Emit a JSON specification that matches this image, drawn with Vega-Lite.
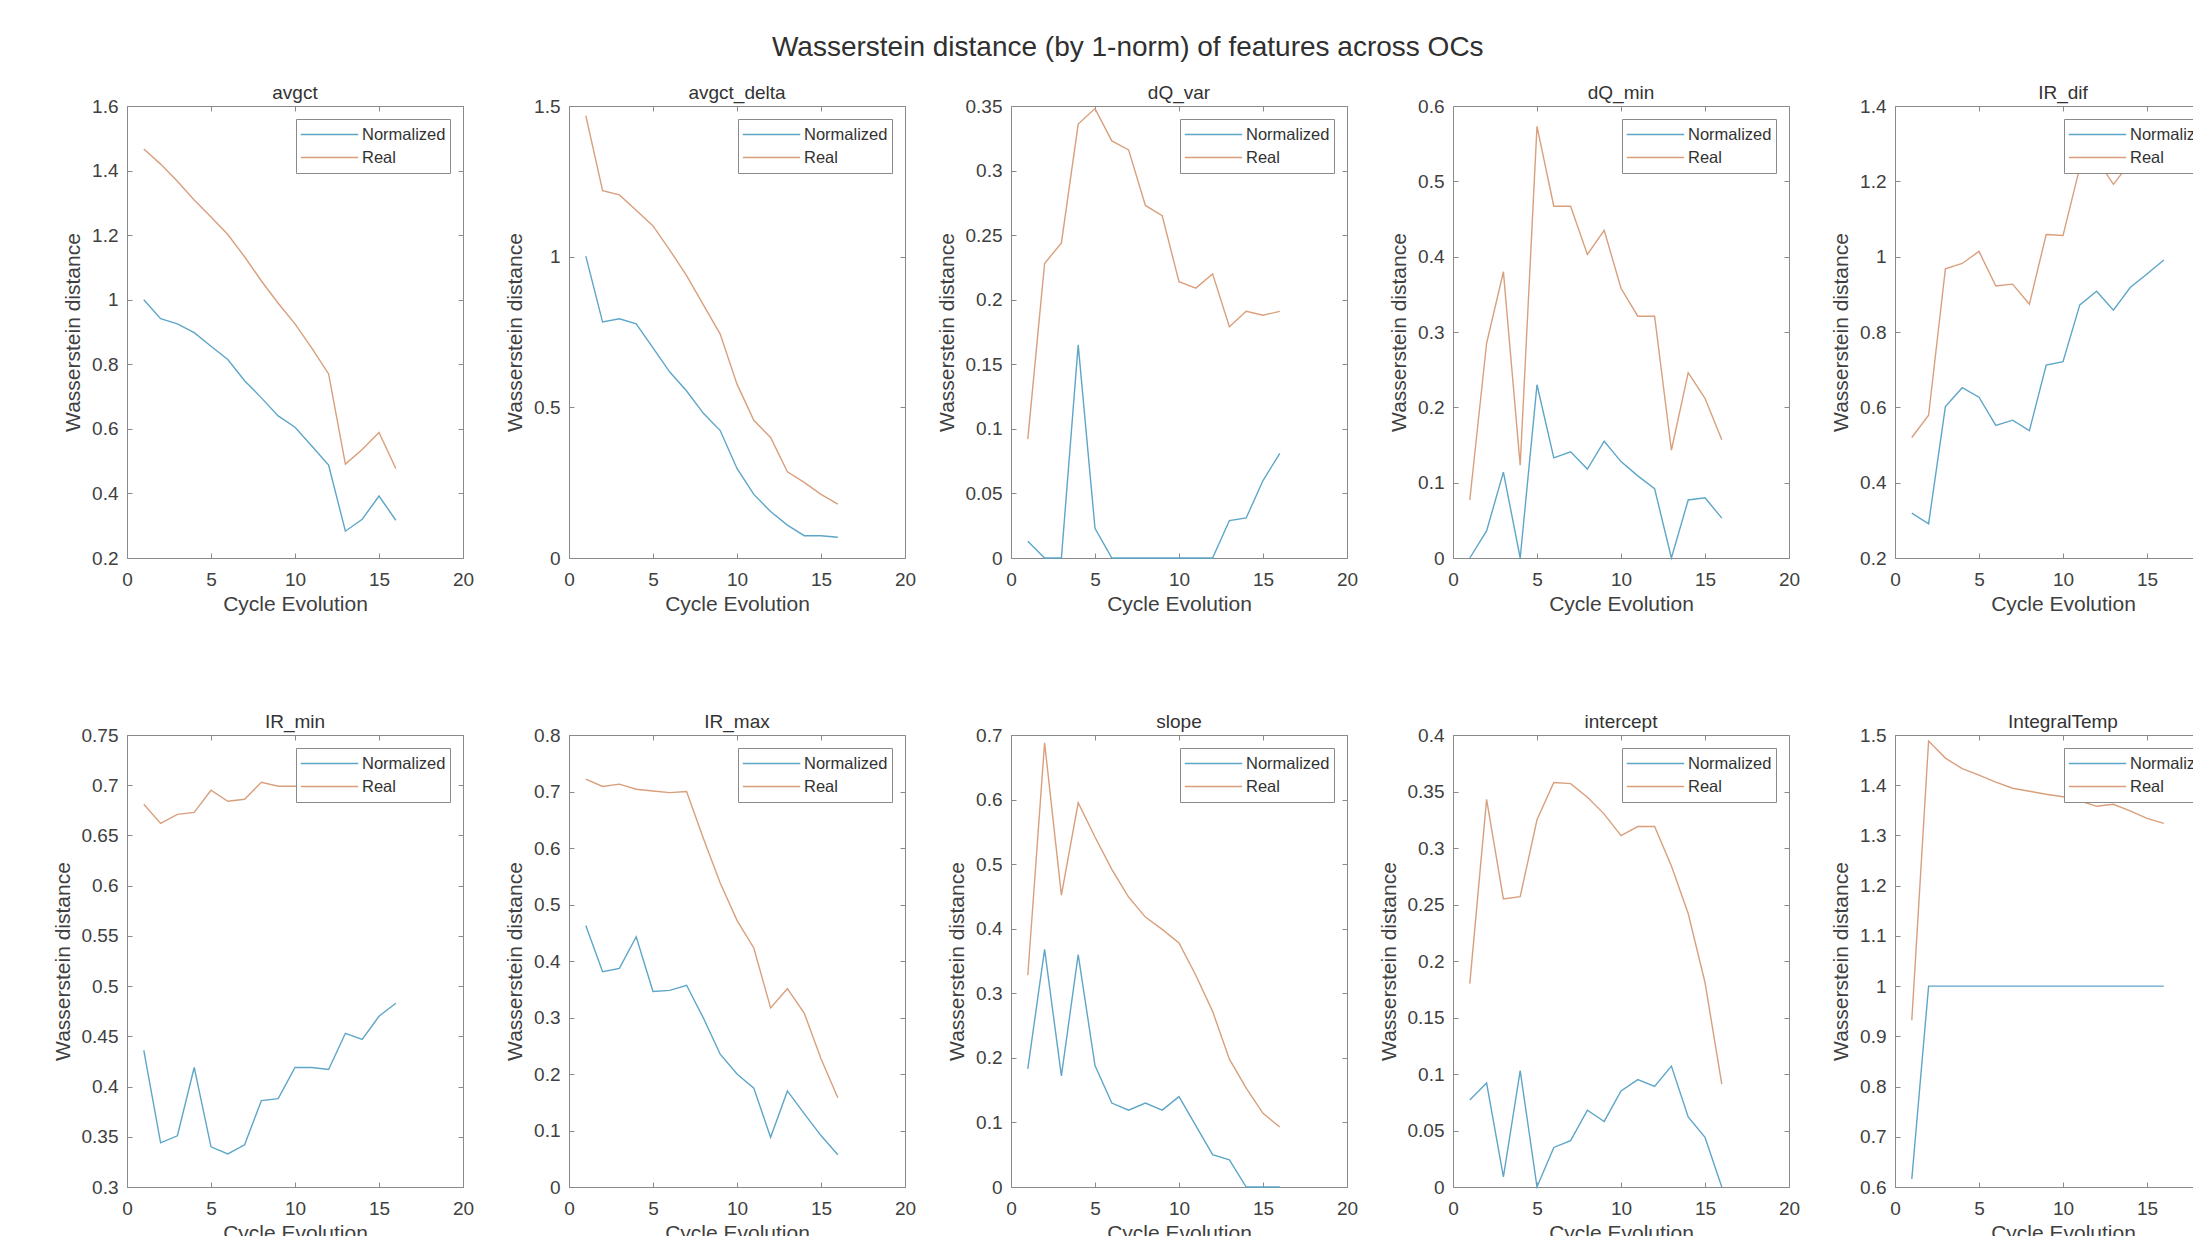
{
"$schema":"https://vega.github.io/schema/vega-lite/v6.json",
"background":"white",
"padding":{"left":51,"top":33,"right":0,"bottom":0},
"title":{"text":"Wasserstein distance (by 1-norm) of features across OCs","fontSize":28,"anchor":"middle","frame":"bounds","offset":22,"dx":-19,"fontWeight":"normal","color":"#303030"},
"datasets":{
"avgct":[
{"s":"Normalized","x":1,"y":1.0},{"s":"Normalized","x":2,"y":0.941},{"s":"Normalized","x":3,"y":0.925},{"s":"Normalized","x":4,"y":0.898},{"s":"Normalized","x":5,"y":0.856},{"s":"Normalized","x":6,"y":0.815},{"s":"Normalized","x":7,"y":0.749},{"s":"Normalized","x":8,"y":0.696},{"s":"Normalized","x":9,"y":0.64},{"s":"Normalized","x":10,"y":0.605},{"s":"Normalized","x":11,"y":0.547},{"s":"Normalized","x":12,"y":0.488},{"s":"Normalized","x":13,"y":0.283},{"s":"Normalized","x":14,"y":0.32},{"s":"Normalized","x":15,"y":0.392},{"s":"Normalized","x":16,"y":0.317},
{"s":"Real","x":1,"y":1.467},{"s":"Real","x":2,"y":1.42},{"s":"Real","x":3,"y":1.367},{"s":"Real","x":4,"y":1.309},{"s":"Real","x":5,"y":1.256},{"s":"Real","x":6,"y":1.202},{"s":"Real","x":7,"y":1.133},{"s":"Real","x":8,"y":1.058},{"s":"Real","x":9,"y":0.989},{"s":"Real","x":10,"y":0.925},{"s":"Real","x":11,"y":0.85},{"s":"Real","x":12,"y":0.77},{"s":"Real","x":13,"y":0.491},{"s":"Real","x":14,"y":0.536},{"s":"Real","x":15,"y":0.589},{"s":"Real","x":16,"y":0.477}],
"avgct_delta":[
{"s":"Normalized","x":1,"y":1.002},{"s":"Normalized","x":2,"y":0.783},{"s":"Normalized","x":3,"y":0.794},{"s":"Normalized","x":4,"y":0.777},{"s":"Normalized","x":5,"y":0.697},{"s":"Normalized","x":6,"y":0.617},{"s":"Normalized","x":7,"y":0.554},{"s":"Normalized","x":8,"y":0.48},{"s":"Normalized","x":9,"y":0.423},{"s":"Normalized","x":10,"y":0.297},{"s":"Normalized","x":11,"y":0.211},{"s":"Normalized","x":12,"y":0.154},{"s":"Normalized","x":13,"y":0.109},{"s":"Normalized","x":14,"y":0.074},{"s":"Normalized","x":15,"y":0.074},{"s":"Normalized","x":16,"y":0.069},
{"s":"Real","x":1,"y":1.468},{"s":"Real","x":2,"y":1.219},{"s":"Real","x":3,"y":1.205},{"s":"Real","x":4,"y":1.154},{"s":"Real","x":5,"y":1.102},{"s":"Real","x":6,"y":1.022},{"s":"Real","x":7,"y":0.937},{"s":"Real","x":8,"y":0.84},{"s":"Real","x":9,"y":0.743},{"s":"Real","x":10,"y":0.577},{"s":"Real","x":11,"y":0.457},{"s":"Real","x":12,"y":0.4},{"s":"Real","x":13,"y":0.286},{"s":"Real","x":14,"y":0.251},{"s":"Real","x":15,"y":0.211},{"s":"Real","x":16,"y":0.179}],
"dQ_var":[
{"s":"Normalized","x":1,"y":0.013},{"s":"Normalized","x":2,"y":0},{"s":"Normalized","x":3,"y":0},{"s":"Normalized","x":4,"y":0.165},{"s":"Normalized","x":5,"y":0.023},{"s":"Normalized","x":6,"y":0},{"s":"Normalized","x":7,"y":0},{"s":"Normalized","x":8,"y":0},{"s":"Normalized","x":9,"y":0},{"s":"Normalized","x":10,"y":0},{"s":"Normalized","x":11,"y":0},{"s":"Normalized","x":12,"y":0},{"s":"Normalized","x":13,"y":0.029},{"s":"Normalized","x":14,"y":0.031},{"s":"Normalized","x":15,"y":0.06},{"s":"Normalized","x":16,"y":0.081},
{"s":"Real","x":1,"y":0.092},{"s":"Real","x":2,"y":0.228},{"s":"Real","x":3,"y":0.244},{"s":"Real","x":4,"y":0.336},{"s":"Real","x":5,"y":0.348},{"s":"Real","x":6,"y":0.323},{"s":"Real","x":7,"y":0.316},{"s":"Real","x":8,"y":0.273},{"s":"Real","x":9,"y":0.265},{"s":"Real","x":10,"y":0.214},{"s":"Real","x":11,"y":0.209},{"s":"Real","x":12,"y":0.22},{"s":"Real","x":13,"y":0.179},{"s":"Real","x":14,"y":0.191},{"s":"Real","x":15,"y":0.188},{"s":"Real","x":16,"y":0.191}],
"dQ_min":[
{"s":"Normalized","x":1,"y":0},{"s":"Normalized","x":2,"y":0.036},{"s":"Normalized","x":3,"y":0.114},{"s":"Normalized","x":4,"y":0},{"s":"Normalized","x":5,"y":0.23},{"s":"Normalized","x":6,"y":0.133},{"s":"Normalized","x":7,"y":0.141},{"s":"Normalized","x":8,"y":0.118},{"s":"Normalized","x":9,"y":0.155},{"s":"Normalized","x":10,"y":0.128},{"s":"Normalized","x":11,"y":0.109},{"s":"Normalized","x":12,"y":0.092},{"s":"Normalized","x":13,"y":0},{"s":"Normalized","x":14,"y":0.077},{"s":"Normalized","x":15,"y":0.08},{"s":"Normalized","x":16,"y":0.053},
{"s":"Real","x":1,"y":0.077},{"s":"Real","x":2,"y":0.285},{"s":"Real","x":3,"y":0.38},{"s":"Real","x":4,"y":0.123},{"s":"Real","x":5,"y":0.573},{"s":"Real","x":6,"y":0.467},{"s":"Real","x":7,"y":0.467},{"s":"Real","x":8,"y":0.403},{"s":"Real","x":9,"y":0.435},{"s":"Real","x":10,"y":0.358},{"s":"Real","x":11,"y":0.321},{"s":"Real","x":12,"y":0.321},{"s":"Real","x":13,"y":0.143},{"s":"Real","x":14,"y":0.246},{"s":"Real","x":15,"y":0.212},{"s":"Real","x":16,"y":0.157}],
"IR_dif":[
{"s":"Normalized","x":1,"y":0.319},{"s":"Normalized","x":2,"y":0.291},{"s":"Normalized","x":3,"y":0.602},{"s":"Normalized","x":4,"y":0.652},{"s":"Normalized","x":5,"y":0.627},{"s":"Normalized","x":6,"y":0.552},{"s":"Normalized","x":7,"y":0.566},{"s":"Normalized","x":8,"y":0.538},{"s":"Normalized","x":9,"y":0.712},{"s":"Normalized","x":10,"y":0.721},{"s":"Normalized","x":11,"y":0.872},{"s":"Normalized","x":12,"y":0.908},{"s":"Normalized","x":13,"y":0.858},{"s":"Normalized","x":14,"y":0.918},{"s":"Normalized","x":15,"y":0.954},{"s":"Normalized","x":16,"y":0.991},
{"s":"Real","x":1,"y":0.52},{"s":"Real","x":2,"y":0.579},{"s":"Real","x":3,"y":0.968},{"s":"Real","x":4,"y":0.982},{"s":"Real","x":5,"y":1.014},{"s":"Real","x":6,"y":0.922},{"s":"Real","x":7,"y":0.927},{"s":"Real","x":8,"y":0.874},{"s":"Real","x":9,"y":1.059},{"s":"Real","x":10,"y":1.056},{"s":"Real","x":11,"y":1.237},{"s":"Real","x":12,"y":1.26},{"s":"Real","x":13,"y":1.192},{"s":"Real","x":14,"y":1.25},{"s":"Real","x":15,"y":1.28},{"s":"Real","x":16,"y":1.32}],
"IR_min":[
{"s":"Normalized","x":1,"y":0.436},{"s":"Normalized","x":2,"y":0.344},{"s":"Normalized","x":3,"y":0.351},{"s":"Normalized","x":4,"y":0.419},{"s":"Normalized","x":5,"y":0.34},{"s":"Normalized","x":6,"y":0.333},{"s":"Normalized","x":7,"y":0.342},{"s":"Normalized","x":8,"y":0.386},{"s":"Normalized","x":9,"y":0.388},{"s":"Normalized","x":10,"y":0.419},{"s":"Normalized","x":11,"y":0.419},{"s":"Normalized","x":12,"y":0.417},{"s":"Normalized","x":13,"y":0.453},{"s":"Normalized","x":14,"y":0.447},{"s":"Normalized","x":15,"y":0.47},{"s":"Normalized","x":16,"y":0.483},
{"s":"Real","x":1,"y":0.681},{"s":"Real","x":2,"y":0.662},{"s":"Real","x":3,"y":0.671},{"s":"Real","x":4,"y":0.673},{"s":"Real","x":5,"y":0.695},{"s":"Real","x":6,"y":0.684},{"s":"Real","x":7,"y":0.686},{"s":"Real","x":8,"y":0.703},{"s":"Real","x":9,"y":0.699},{"s":"Real","x":10,"y":0.699},{"s":"Real","x":11,"y":0.7},{"s":"Real","x":12,"y":0.702},{"s":"Real","x":13,"y":0.7},{"s":"Real","x":14,"y":0.703},{"s":"Real","x":15,"y":0.705},{"s":"Real","x":16,"y":0.706}],
"IR_max":[
{"s":"Normalized","x":1,"y":0.463},{"s":"Normalized","x":2,"y":0.381},{"s":"Normalized","x":3,"y":0.387},{"s":"Normalized","x":4,"y":0.443},{"s":"Normalized","x":5,"y":0.346},{"s":"Normalized","x":6,"y":0.348},{"s":"Normalized","x":7,"y":0.357},{"s":"Normalized","x":8,"y":0.299},{"s":"Normalized","x":9,"y":0.235},{"s":"Normalized","x":10,"y":0.2},{"s":"Normalized","x":11,"y":0.175},{"s":"Normalized","x":12,"y":0.088},{"s":"Normalized","x":13,"y":0.17},{"s":"Normalized","x":14,"y":0.13},{"s":"Normalized","x":15,"y":0.091},{"s":"Normalized","x":16,"y":0.057},
{"s":"Real","x":1,"y":0.722},{"s":"Real","x":2,"y":0.709},{"s":"Real","x":3,"y":0.713},{"s":"Real","x":4,"y":0.704},{"s":"Real","x":5,"y":0.701},{"s":"Real","x":6,"y":0.698},{"s":"Real","x":7,"y":0.7},{"s":"Real","x":8,"y":0.617},{"s":"Real","x":9,"y":0.538},{"s":"Real","x":10,"y":0.472},{"s":"Real","x":11,"y":0.423},{"s":"Real","x":12,"y":0.317},{"s":"Real","x":13,"y":0.351},{"s":"Real","x":14,"y":0.308},{"s":"Real","x":15,"y":0.227},{"s":"Real","x":16,"y":0.158}],
"slope":[
{"s":"Normalized","x":1,"y":0.183},{"s":"Normalized","x":2,"y":0.368},{"s":"Normalized","x":3,"y":0.172},{"s":"Normalized","x":4,"y":0.36},{"s":"Normalized","x":5,"y":0.188},{"s":"Normalized","x":6,"y":0.13},{"s":"Normalized","x":7,"y":0.119},{"s":"Normalized","x":8,"y":0.13},{"s":"Normalized","x":9,"y":0.119},{"s":"Normalized","x":10,"y":0.14},{"s":"Normalized","x":11,"y":0.095},{"s":"Normalized","x":12,"y":0.05},{"s":"Normalized","x":13,"y":0.042},{"s":"Normalized","x":14,"y":0},{"s":"Normalized","x":15,"y":0},{"s":"Normalized","x":16,"y":0},
{"s":"Real","x":1,"y":0.328},{"s":"Real","x":2,"y":0.688},{"s":"Real","x":3,"y":0.452},{"s":"Real","x":4,"y":0.595},{"s":"Real","x":5,"y":0.542},{"s":"Real","x":6,"y":0.492},{"s":"Real","x":7,"y":0.449},{"s":"Real","x":8,"y":0.418},{"s":"Real","x":9,"y":0.399},{"s":"Real","x":10,"y":0.378},{"s":"Real","x":11,"y":0.328},{"s":"Real","x":12,"y":0.272},{"s":"Real","x":13,"y":0.198},{"s":"Real","x":14,"y":0.153},{"s":"Real","x":15,"y":0.114},{"s":"Real","x":16,"y":0.093}],
"intercept":[
{"s":"Normalized","x":1,"y":0.077},{"s":"Normalized","x":2,"y":0.092},{"s":"Normalized","x":3,"y":0.009},{"s":"Normalized","x":4,"y":0.103},{"s":"Normalized","x":5,"y":0},{"s":"Normalized","x":6,"y":0.035},{"s":"Normalized","x":7,"y":0.041},{"s":"Normalized","x":8,"y":0.068},{"s":"Normalized","x":9,"y":0.058},{"s":"Normalized","x":10,"y":0.085},{"s":"Normalized","x":11,"y":0.095},{"s":"Normalized","x":12,"y":0.089},{"s":"Normalized","x":13,"y":0.107},{"s":"Normalized","x":14,"y":0.062},{"s":"Normalized","x":15,"y":0.044},{"s":"Normalized","x":16,"y":0},
{"s":"Real","x":1,"y":0.18},{"s":"Real","x":2,"y":0.343},{"s":"Real","x":3,"y":0.255},{"s":"Real","x":4,"y":0.257},{"s":"Real","x":5,"y":0.325},{"s":"Real","x":6,"y":0.358},{"s":"Real","x":7,"y":0.357},{"s":"Real","x":8,"y":0.345},{"s":"Real","x":9,"y":0.33},{"s":"Real","x":10,"y":0.311},{"s":"Real","x":11,"y":0.319},{"s":"Real","x":12,"y":0.319},{"s":"Real","x":13,"y":0.284},{"s":"Real","x":14,"y":0.242},{"s":"Real","x":15,"y":0.181},{"s":"Real","x":16,"y":0.091}],
"IntegralTemp":[
{"s":"Normalized","x":1,"y":0.616},{"s":"Normalized","x":2,"y":1},{"s":"Normalized","x":3,"y":1},{"s":"Normalized","x":4,"y":1},{"s":"Normalized","x":5,"y":1},{"s":"Normalized","x":6,"y":1},{"s":"Normalized","x":7,"y":1},{"s":"Normalized","x":8,"y":1},{"s":"Normalized","x":9,"y":1},{"s":"Normalized","x":10,"y":1},{"s":"Normalized","x":11,"y":1},{"s":"Normalized","x":12,"y":1},{"s":"Normalized","x":13,"y":1},{"s":"Normalized","x":14,"y":1},{"s":"Normalized","x":15,"y":1},{"s":"Normalized","x":16,"y":1},
{"s":"Real","x":1,"y":0.932},{"s":"Real","x":2,"y":1.488},{"s":"Real","x":3,"y":1.454},{"s":"Real","x":4,"y":1.433},{"s":"Real","x":5,"y":1.42},{"s":"Real","x":6,"y":1.406},{"s":"Real","x":7,"y":1.394},{"s":"Real","x":8,"y":1.388},{"s":"Real","x":9,"y":1.382},{"s":"Real","x":10,"y":1.377},{"s":"Real","x":11,"y":1.369},{"s":"Real","x":12,"y":1.358},{"s":"Real","x":13,"y":1.362},{"s":"Real","x":14,"y":1.349},{"s":"Real","x":15,"y":1.334},{"s":"Real","x":16,"y":1.324}]
},
"columns":5,
"spacing":{"row":177,"column":106},
"bounds":"flush",
"resolve":{"scale":{"color":"independent"},"legend":{"color":"independent"}},
"concat":[
{"title":"avgct","width":336,"height":452,"data":{"name":"avgct"},"layer":[
 {"mark":{"type":"line"},"encoding":{"x":{"field":"x","type":"quantitative","scale":{"domain":[0,20],"nice":false},"axis":{"orient":"bottom","values":[0,5,10,15,20],"title":"Cycle Evolution"}},"y":{"field":"y","type":"quantitative","scale":{"domain":[0.2,1.6],"nice":false,"zero":false},"axis":{"orient":"left","values":[0.2,0.4,0.6,0.8,1,1.2,1.4,1.6],"format":"~g","title":"Wasserstein distance"}},"color":{"field":"s","type":"nominal","scale":{"domain":["Normalized","Real"],"range":["#5ea6c8","#d99f7d"]},"legend":{"title":null,"orient":"top-right","offset":13}}}},
 {"mark":{"type":"point","opacity":0},"encoding":{"x":{"field":"x","type":"quantitative","scale":{"domain":[0,20],"nice":false},"axis":{"orient":"top","values":[0,5,10,15,20],"labels":false,"title":null}},"y":{"field":"y","type":"quantitative","scale":{"domain":[0.2,1.6],"nice":false,"zero":false},"axis":{"orient":"right","values":[0.2,0.4,0.6,0.8,1,1.2,1.4,1.6],"labels":false,"title":null}}}}
],"resolve":{"axis":{"x":"independent","y":"independent"}}},
{"title":"avgct_delta","width":336,"height":452,"data":{"name":"avgct_delta"},"layer":[
 {"mark":{"type":"line"},"encoding":{"x":{"field":"x","type":"quantitative","scale":{"domain":[0,20],"nice":false},"axis":{"orient":"bottom","values":[0,5,10,15,20],"title":"Cycle Evolution"}},"y":{"field":"y","type":"quantitative","scale":{"domain":[0,1.5],"nice":false,"zero":false},"axis":{"orient":"left","values":[0,0.5,1,1.5],"format":"~g","title":"Wasserstein distance"}},"color":{"field":"s","type":"nominal","scale":{"domain":["Normalized","Real"],"range":["#5ea6c8","#d99f7d"]},"legend":{"title":null,"orient":"top-right","offset":13}}}},
 {"mark":{"type":"point","opacity":0},"encoding":{"x":{"field":"x","type":"quantitative","scale":{"domain":[0,20],"nice":false},"axis":{"orient":"top","values":[0,5,10,15,20],"labels":false,"title":null}},"y":{"field":"y","type":"quantitative","scale":{"domain":[0,1.5],"nice":false,"zero":false},"axis":{"orient":"right","values":[0,0.5,1,1.5],"labels":false,"title":null}}}}
],"resolve":{"axis":{"x":"independent","y":"independent"}}},
{"title":"dQ_var","width":336,"height":452,"data":{"name":"dQ_var"},"layer":[
 {"mark":{"type":"line"},"encoding":{"x":{"field":"x","type":"quantitative","scale":{"domain":[0,20],"nice":false},"axis":{"orient":"bottom","values":[0,5,10,15,20],"title":"Cycle Evolution"}},"y":{"field":"y","type":"quantitative","scale":{"domain":[0,0.35],"nice":false,"zero":false},"axis":{"orient":"left","values":[0,0.05,0.1,0.15,0.2,0.25,0.3,0.35],"format":"~g","title":"Wasserstein distance"}},"color":{"field":"s","type":"nominal","scale":{"domain":["Normalized","Real"],"range":["#5ea6c8","#d99f7d"]},"legend":{"title":null,"orient":"top-right","offset":13}}}},
 {"mark":{"type":"point","opacity":0},"encoding":{"x":{"field":"x","type":"quantitative","scale":{"domain":[0,20],"nice":false},"axis":{"orient":"top","values":[0,5,10,15,20],"labels":false,"title":null}},"y":{"field":"y","type":"quantitative","scale":{"domain":[0,0.35],"nice":false,"zero":false},"axis":{"orient":"right","values":[0,0.05,0.1,0.15,0.2,0.25,0.3,0.35],"labels":false,"title":null}}}}
],"resolve":{"axis":{"x":"independent","y":"independent"}}},
{"title":"dQ_min","width":336,"height":452,"data":{"name":"dQ_min"},"layer":[
 {"mark":{"type":"line"},"encoding":{"x":{"field":"x","type":"quantitative","scale":{"domain":[0,20],"nice":false},"axis":{"orient":"bottom","values":[0,5,10,15,20],"title":"Cycle Evolution"}},"y":{"field":"y","type":"quantitative","scale":{"domain":[0,0.6],"nice":false,"zero":false},"axis":{"orient":"left","values":[0,0.1,0.2,0.3,0.4,0.5,0.6],"format":"~g","title":"Wasserstein distance"}},"color":{"field":"s","type":"nominal","scale":{"domain":["Normalized","Real"],"range":["#5ea6c8","#d99f7d"]},"legend":{"title":null,"orient":"top-right","offset":13}}}},
 {"mark":{"type":"point","opacity":0},"encoding":{"x":{"field":"x","type":"quantitative","scale":{"domain":[0,20],"nice":false},"axis":{"orient":"top","values":[0,5,10,15,20],"labels":false,"title":null}},"y":{"field":"y","type":"quantitative","scale":{"domain":[0,0.6],"nice":false,"zero":false},"axis":{"orient":"right","values":[0,0.1,0.2,0.3,0.4,0.5,0.6],"labels":false,"title":null}}}}
],"resolve":{"axis":{"x":"independent","y":"independent"}}},
{"title":"IR_dif","width":336,"height":452,"data":{"name":"IR_dif"},"layer":[
 {"mark":{"type":"line"},"encoding":{"x":{"field":"x","type":"quantitative","scale":{"domain":[0,20],"nice":false},"axis":{"orient":"bottom","values":[0,5,10,15,20],"title":"Cycle Evolution"}},"y":{"field":"y","type":"quantitative","scale":{"domain":[0.2,1.4],"nice":false,"zero":false},"axis":{"orient":"left","values":[0.2,0.4,0.6,0.8,1,1.2,1.4],"format":"~g","title":"Wasserstein distance"}},"color":{"field":"s","type":"nominal","scale":{"domain":["Normalized","Real"],"range":["#5ea6c8","#d99f7d"]},"legend":{"title":null,"orient":"top-right","offset":13}}}},
 {"mark":{"type":"point","opacity":0},"encoding":{"x":{"field":"x","type":"quantitative","scale":{"domain":[0,20],"nice":false},"axis":{"orient":"top","values":[0,5,10,15,20],"labels":false,"title":null}},"y":{"field":"y","type":"quantitative","scale":{"domain":[0.2,1.4],"nice":false,"zero":false},"axis":{"orient":"right","values":[0.2,0.4,0.6,0.8,1,1.2,1.4],"labels":false,"title":null}}}}
],"resolve":{"axis":{"x":"independent","y":"independent"}}},
{"title":"IR_min","width":336,"height":452,"data":{"name":"IR_min"},"layer":[
 {"mark":{"type":"line"},"encoding":{"x":{"field":"x","type":"quantitative","scale":{"domain":[0,20],"nice":false},"axis":{"orient":"bottom","values":[0,5,10,15,20],"title":"Cycle Evolution"}},"y":{"field":"y","type":"quantitative","scale":{"domain":[0.3,0.75],"nice":false,"zero":false},"axis":{"orient":"left","values":[0.3,0.35,0.4,0.45,0.5,0.55,0.6,0.65,0.7,0.75],"format":"~g","title":"Wasserstein distance"}},"color":{"field":"s","type":"nominal","scale":{"domain":["Normalized","Real"],"range":["#5ea6c8","#d99f7d"]},"legend":{"title":null,"orient":"top-right","offset":13}}}},
 {"mark":{"type":"point","opacity":0},"encoding":{"x":{"field":"x","type":"quantitative","scale":{"domain":[0,20],"nice":false},"axis":{"orient":"top","values":[0,5,10,15,20],"labels":false,"title":null}},"y":{"field":"y","type":"quantitative","scale":{"domain":[0.3,0.75],"nice":false,"zero":false},"axis":{"orient":"right","values":[0.3,0.35,0.4,0.45,0.5,0.55,0.6,0.65,0.7,0.75],"labels":false,"title":null}}}}
],"resolve":{"axis":{"x":"independent","y":"independent"}}},
{"title":"IR_max","width":336,"height":452,"data":{"name":"IR_max"},"layer":[
 {"mark":{"type":"line"},"encoding":{"x":{"field":"x","type":"quantitative","scale":{"domain":[0,20],"nice":false},"axis":{"orient":"bottom","values":[0,5,10,15,20],"title":"Cycle Evolution"}},"y":{"field":"y","type":"quantitative","scale":{"domain":[0,0.8],"nice":false,"zero":false},"axis":{"orient":"left","values":[0,0.1,0.2,0.3,0.4,0.5,0.6,0.7,0.8],"format":"~g","title":"Wasserstein distance"}},"color":{"field":"s","type":"nominal","scale":{"domain":["Normalized","Real"],"range":["#5ea6c8","#d99f7d"]},"legend":{"title":null,"orient":"top-right","offset":13}}}},
 {"mark":{"type":"point","opacity":0},"encoding":{"x":{"field":"x","type":"quantitative","scale":{"domain":[0,20],"nice":false},"axis":{"orient":"top","values":[0,5,10,15,20],"labels":false,"title":null}},"y":{"field":"y","type":"quantitative","scale":{"domain":[0,0.8],"nice":false,"zero":false},"axis":{"orient":"right","values":[0,0.1,0.2,0.3,0.4,0.5,0.6,0.7,0.8],"labels":false,"title":null}}}}
],"resolve":{"axis":{"x":"independent","y":"independent"}}},
{"title":"slope","width":336,"height":452,"data":{"name":"slope"},"layer":[
 {"mark":{"type":"line"},"encoding":{"x":{"field":"x","type":"quantitative","scale":{"domain":[0,20],"nice":false},"axis":{"orient":"bottom","values":[0,5,10,15,20],"title":"Cycle Evolution"}},"y":{"field":"y","type":"quantitative","scale":{"domain":[0,0.7],"nice":false,"zero":false},"axis":{"orient":"left","values":[0,0.1,0.2,0.3,0.4,0.5,0.6,0.7],"format":"~g","title":"Wasserstein distance"}},"color":{"field":"s","type":"nominal","scale":{"domain":["Normalized","Real"],"range":["#5ea6c8","#d99f7d"]},"legend":{"title":null,"orient":"top-right","offset":13}}}},
 {"mark":{"type":"point","opacity":0},"encoding":{"x":{"field":"x","type":"quantitative","scale":{"domain":[0,20],"nice":false},"axis":{"orient":"top","values":[0,5,10,15,20],"labels":false,"title":null}},"y":{"field":"y","type":"quantitative","scale":{"domain":[0,0.7],"nice":false,"zero":false},"axis":{"orient":"right","values":[0,0.1,0.2,0.3,0.4,0.5,0.6,0.7],"labels":false,"title":null}}}}
],"resolve":{"axis":{"x":"independent","y":"independent"}}},
{"title":"intercept","width":336,"height":452,"data":{"name":"intercept"},"layer":[
 {"mark":{"type":"line"},"encoding":{"x":{"field":"x","type":"quantitative","scale":{"domain":[0,20],"nice":false},"axis":{"orient":"bottom","values":[0,5,10,15,20],"title":"Cycle Evolution"}},"y":{"field":"y","type":"quantitative","scale":{"domain":[0,0.4],"nice":false,"zero":false},"axis":{"orient":"left","values":[0,0.05,0.1,0.15,0.2,0.25,0.3,0.35,0.4],"format":"~g","title":"Wasserstein distance"}},"color":{"field":"s","type":"nominal","scale":{"domain":["Normalized","Real"],"range":["#5ea6c8","#d99f7d"]},"legend":{"title":null,"orient":"top-right","offset":13}}}},
 {"mark":{"type":"point","opacity":0},"encoding":{"x":{"field":"x","type":"quantitative","scale":{"domain":[0,20],"nice":false},"axis":{"orient":"top","values":[0,5,10,15,20],"labels":false,"title":null}},"y":{"field":"y","type":"quantitative","scale":{"domain":[0,0.4],"nice":false,"zero":false},"axis":{"orient":"right","values":[0,0.05,0.1,0.15,0.2,0.25,0.3,0.35,0.4],"labels":false,"title":null}}}}
],"resolve":{"axis":{"x":"independent","y":"independent"}}},
{"title":"IntegralTemp","width":336,"height":452,"data":{"name":"IntegralTemp"},"layer":[
 {"mark":{"type":"line"},"encoding":{"x":{"field":"x","type":"quantitative","scale":{"domain":[0,20],"nice":false},"axis":{"orient":"bottom","values":[0,5,10,15,20],"title":"Cycle Evolution"}},"y":{"field":"y","type":"quantitative","scale":{"domain":[0.6,1.5],"nice":false,"zero":false},"axis":{"orient":"left","values":[0.6,0.7,0.8,0.9,1,1.1,1.2,1.3,1.4,1.5],"format":"~g","title":"Wasserstein distance"}},"color":{"field":"s","type":"nominal","scale":{"domain":["Normalized","Real"],"range":["#5ea6c8","#d99f7d"]},"legend":{"title":null,"orient":"top-right","offset":13}}}},
 {"mark":{"type":"point","opacity":0},"encoding":{"x":{"field":"x","type":"quantitative","scale":{"domain":[0,20],"nice":false},"axis":{"orient":"top","values":[0,5,10,15,20],"labels":false,"title":null}},"y":{"field":"y","type":"quantitative","scale":{"domain":[0.6,1.5],"nice":false,"zero":false},"axis":{"orient":"right","values":[0.6,0.7,0.8,0.9,1,1.1,1.2,1.3,1.4,1.5],"labels":false,"title":null}}}}
],"resolve":{"axis":{"x":"independent","y":"independent"}}}
],
"config":{
 "font":"Liberation Sans",
 "view":{"stroke":"#8a8a8a","strokeWidth":1},
 "line":{"strokeWidth":1.4},
 "axis":{"domain":false,"grid":false,"tickSize":-5,"tickColor":"#8a8a8a","tickWidth":1,"labelFontSize":19,"labelColor":"#404040","labelFont":"Liberation Sans","titleFont":"Liberation Sans","titleFontSize":21,"titleFontWeight":"normal","titleColor":"#404040","labelFlush":false,"labelOverlap":false},
 "axisX":{"labelPadding":17,"titlePadding":4},
 "axisY":{"labelPadding":14,"titlePadding":8},
 "legend":{"strokeColor":"#8a8a8a","fillColor":"#ffffff","padding":4,"symbolType":"stroke","symbolSize":3300,"symbolStrokeWidth":1.4,"labelFontSize":16.5,"labelColor":"#333333","labelFont":"Liberation Sans","labelOffset":3,"clipHeight":23,"rowPadding":0,"cornerRadius":0},
 "title":{"fontSize":19,"fontWeight":"normal","color":"#333333","offset":-6,"frame":"group","font":"Liberation Sans"}
}
}
